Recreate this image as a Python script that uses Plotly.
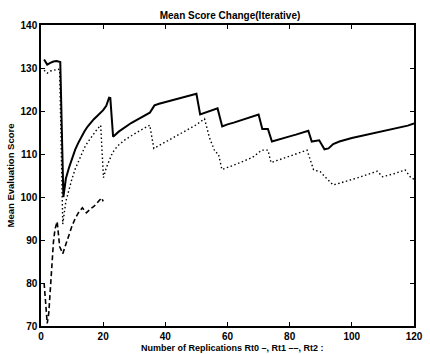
import plotly.graph_objects as go

# Rt0 (solid)
rt0_x = [1, 2, 3, 4, 5, 5.8, 6.2, 7.2, 7.5, 8, 9, 10, 11, 12, 13, 14, 15, 16, 17, 18, 19, 20, 21, 21.9, 22.3,
         23.2, 25, 27, 29, 31, 33, 35, 35.8, 36.5, 38, 40, 42, 44, 46, 48, 50, 51.2, 53, 55, 56.8, 58.3, 60, 62,
         64, 66, 68, 70, 71.2, 73, 74.3, 76, 78, 80, 82, 84, 86, 87.1, 89.5, 91.2, 92.5, 94, 96, 100, 105, 110,
         115, 118, 120]
rt0_y = [132, 130.8, 131.2, 131.5, 131.6, 131.5, 131.4, 100, 102, 104.3, 106.8, 109, 111, 112.6, 114, 115.3,
         116.4, 117.3, 118.1, 118.8, 119.5, 120.2, 121.2, 123.1, 123, 114, 115.2, 116.3, 117.2, 118, 118.8, 119.6,
         120.5, 121.3, 121.7, 122.1, 122.5, 122.9, 123.2, 123.6, 124, 119.2, 119.6, 120.1, 120.6, 116.4, 116.9,
         117.3, 117.8, 118.3, 118.7, 119.2, 115.8, 115.8, 112.9, 113.3, 113.7, 114.1, 114.5, 115, 115.4, 112.9,
         113.2, 111.1, 111.3, 112.3, 112.9, 113.7, 114.5, 115.3, 116.1, 116.6, 117.1]

# Rt1 (dashed)
rt1_x = [1, 1.5, 2, 2.5, 3, 3.5, 4, 4.5, 5.2, 6, 7, 8, 9, 10, 11, 12, 13.3, 14.6, 16, 17, 18, 19.5, 20]
rt1_y = [80, 76, 70.6, 73, 78, 85, 89.5, 92.5, 94.3, 88.5, 86.8, 89, 91.3, 93.3, 95, 96.3, 97.5, 96.3, 97.3,
         97.8, 98.6, 99.8, 99]

# Rt2 (dotted)
rt2_x = [1, 2, 3, 4, 5.5, 6, 7, 8, 9, 10, 11, 12, 13, 14, 15, 16, 17, 18, 19.2, 20.1, 21, 22, 23, 24, 25, 27,
         29, 31, 33, 35, 36.3, 38, 40, 42, 44, 46, 48, 50, 52.6, 54.2, 56, 57.1, 58.2, 60, 62, 64, 66, 68, 70,
         71, 73, 74, 76, 78, 80, 82, 84, 85.6, 87.7, 89.8, 91.9, 94, 96, 98, 100, 102, 104, 106, 108.2, 109.9,
         112, 114, 117.1, 119.2, 120]
rt2_y = [129.5, 128.8, 129.3, 129.5, 129.7, 129.6, 93.7, 99, 102, 104.3, 106.5, 108.3, 110, 111.5, 112.7,
         113.8, 114.8, 115.7, 116.7, 104.5, 106.8, 108.8, 110.3, 111.3, 112.1, 113.3, 114.3, 115.1, 115.9, 116.7,
         111.3, 112, 112.8, 113.6, 114.4, 115.2, 116, 116.8, 118.2, 113.8, 110.5, 110, 106.4, 106.8, 107.4, 108,
         108.6, 109.2, 110.3, 110.9, 110.9, 108, 108.5, 109, 109.4, 109.9, 110.4, 110.9, 106.3, 105.9, 104.3,
         102.8, 103.2, 103.6, 104, 104.5, 105, 105.4, 106, 104.7, 105.1, 105.5, 106.3, 104.3, 104.2]

x_ticks = [0, 20, 40, 60, 80, 100, 120]
y_ticks = [70, 80, 90, 100, 110, 120, 130, 140]

FONT = "Liberation Sans"

fig = go.Figure()
fig.add_trace(go.Scatter(x=rt0_x, y=rt0_y, mode="lines", name="Rt0",
                         line=dict(color="black", width=2, dash="solid")))
fig.add_trace(go.Scatter(x=rt1_x, y=rt1_y, mode="lines", name="Rt1",
                         line=dict(color="black", width=1.6, dash="5px,3px")))
fig.add_trace(go.Scatter(x=rt2_x, y=rt2_y, mode="lines", name="Rt2",
                         line=dict(color="black", width=1.4, dash="1.5px,2.5px")))

axis_common = dict(showgrid=False, zeroline=False, showline=True, linecolor="black", linewidth=1.5,
                   mirror="ticks", ticks="inside", ticklen=4, tickwidth=1, tickcolor="black",
                   tickfont=dict(family=FONT, size=10, color="black", weight="bold"))

fig.update_layout(
    width=430, height=354,
    margin=dict(l=41, r=7, t=25, b=28),
    paper_bgcolor="white", plot_bgcolor="white",
    showlegend=False,
    title=dict(text="Mean Score Change(Iterative)", x=230 / 430, xanchor="center",
               y=1 - 15 / 354, yanchor="middle", yref="container",
               font=dict(family=FONT, size=10, color="black", weight="bold")),
    xaxis=dict(range=[0, 120], tickvals=x_ticks, ticklabelstandoff=0, **axis_common),
    yaxis=dict(range=[70, 140], tickvals=y_ticks, **axis_common),
    annotations=[
        dict(text="Number of Replications Rt0 \u2013, Rt1 \u2013\u2013, Rt2 :", xref="paper", yref="paper",
             x=0.513, y=0, yshift=-22, xanchor="center", yanchor="middle", showarrow=False,
             font=dict(family=FONT, size=9, color="black", weight="bold")),
        dict(text="Mean Evaluation Score", xref="paper", yref="paper", x=0, xshift=-31, y=0.5,
             xanchor="center", yanchor="middle", textangle=-90, showarrow=False,
             font=dict(family=FONT, size=9.5, color="black", weight="bold")),
    ],
)

fig.write_html("out.html", config={"displayModeBar": False},
               post_script="document.body.style.margin='0';document.body.style.overflow='hidden';")
